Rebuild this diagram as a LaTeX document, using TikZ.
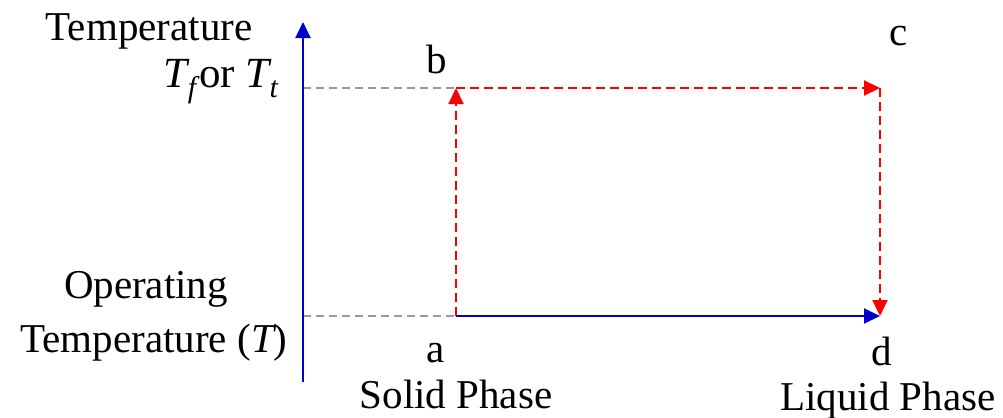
\documentclass[tikz,border=0pt]{standalone}
\usepackage{fontspec}
\setmainfont{Liberation Serif}
\usetikzlibrary{arrows.meta}
\definecolor{axisblue}{HTML}{0000CC}
\definecolor{pathred}{HTML}{FF0000}
\definecolor{guidegray}{HTML}{999999}
\tikzset{
  lbl/.style={font=\fontsize{20.5}{24}\selectfont,inner sep=0pt,anchor=base},
  axisflow/.style={-{Triangle[length=8pt,width=7.5pt]},line width=1pt,draw=axisblue},
  redflow/.style={-{Triangle[length=8pt,width=7.5pt]},line width=1pt,draw=pathred,dash pattern=on 4.5pt off 2.5pt},
  guide/.style={line width=0.75pt,draw=guidegray,dash pattern=on 4pt off 2.5pt}
}
\newcommand{\subit}[1]{\raisebox{-5pt}{\fontsize{15}{15}\selectfont\itshape #1}}

\begin{document}
\begin{tikzpicture}[x=0.5pt,y=-0.5pt]
  \useasboundingbox (0,0) rectangle (1003,418);
  \coordinate (origin) at (303,382);
  \coordinate (top) at (303,22);
  \coordinate (yhi) at (303,88);
  \coordinate (ylo) at (303,316);
  \coordinate (a) at (456,316);
  \coordinate (b) at (456,88);
  \coordinate (c) at (880,88);
  \coordinate (d) at (880,316);
  \draw[guide] (yhi) -- (b);
  \draw[guide] (ylo) -- (a);
  \draw[axisflow] (origin) -- (top);
  \draw[redflow] (a) -- (b);
  \draw[redflow] (b) -- (c);
  \draw[redflow] (c) -- (d);
  \draw[axisflow] (a) -- (d);
  \node[lbl] (templbl) at (149,40) {Temperature};
  \node[lbl,font=\fontsize{21.5}{24}\selectfont] (tflbl) at (221,87) {{\itshape T}\subit{f}\hspace{1.5pt}or {\itshape T}\subit{t}};
  \node[lbl] (oplbl) at (146,298) {Operating};
  \node[lbl] (optemplbl) at (154,352) {Temperature ({\itshape T})};
  \node[lbl] (blbl) at (437,73) {b};
  \node[lbl] (clbl) at (899,45) {c};
  \node[lbl] (albl) at (436,362) {a};
  \node[lbl] (dlbl) at (882,365) {d};
  \node[lbl] (solidlbl) at (456,408) {Solid Phase};
  \node[lbl] (liquidlbl) at (888,410) {Liquid Phase};
\end{tikzpicture}
\end{document}
